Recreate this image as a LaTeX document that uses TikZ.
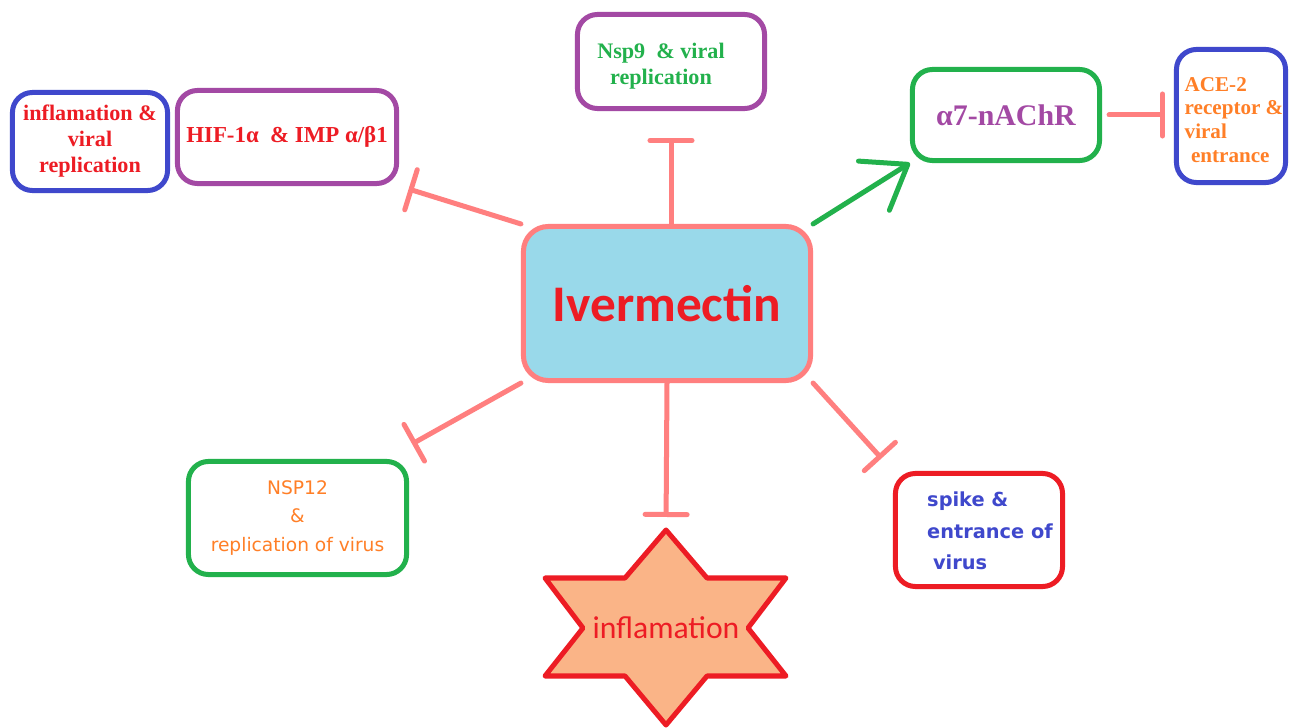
\documentclass[tikz,border=0pt]{standalone}
\usepackage{fontspec}
\setmainfont{Liberation Serif}
\newfontfamily\calibri{Carlito}
\newfontfamily\tahoma{DejaVu Sans}
\usetikzlibrary{arrows.meta,calc}
\definecolor{myred}{HTML}{ED1C24}
\definecolor{myblue}{HTML}{3F48CC}
\definecolor{mypurple}{HTML}{A349A4}
\definecolor{mygreen}{HTML}{22B14C}
\definecolor{myorange}{HTML}{FF7F27}
\definecolor{pinkline}{HTML}{FF7F7F}
\definecolor{ivmblue}{HTML}{99D9EA}
\definecolor{peach}{HTML}{FAB487}
\pgfdeclarelayer{bg}
\pgfsetlayers{bg,main}
\tikzset{box/.style={draw,line width=0.05cm,rounded corners=0.2cm,align=center,inner sep=0pt},
         inhib/.style={draw=pinkline,line width=0.05cm,line cap=round,-{Bar[width=0.42cm,round]}},
         activ/.style={draw=mygreen,line width=0.05cm,line cap=round,-{Straight Barb[length=0.4cm,width=0.58cm,round]}}}

\begin{document}
\begin{tikzpicture}[x=0.01cm,y=-0.01cm]
            % Ivermectin
            \node[box,draw=pinkline,fill=ivmblue,rounded corners=0.25cm,minimum width=2.87cm,minimum height=1.54cm,
                  text=myred,font=\calibri\bfseries\fontsize{14.6}{16}\selectfont] (ivm) at (667,303.5) {Ivermectin};

            % upper row
            \node[box,draw=myblue,text=myred,minimum width=1.55cm,minimum height=0.98cm,
                  font=\bfseries\fontsize{6.3}{7.4}\selectfont] (infl) at (90,141.5) {inflamation \&\\viral\\replication};
            \node[box,draw=mypurple,text=myred,minimum width=2.19cm,minimum height=0.93cm,
                  font=\bfseries\fontsize{6.5}{7.5}\selectfont] (hif) at (287,137) {HIF-1α~~\& IMP α/β1};
            \node[box,draw=mypurple,minimum width=1.87cm,minimum height=0.94cm] (nsp9) at (671,61.5) {};
            \node[text=mygreen,align=center,inner sep=0pt,
                  font=\bfseries\fontsize{6.3}{7.4}\selectfont] (nsp9txt) at (661,66) {Nsp9~~\& viral\\replication};
            \node[box,draw=mygreen,text=mypurple,minimum width=1.87cm,minimum height=0.91cm,
                  font=\bfseries\fontsize{8.5}{10}\selectfont] (a7) at (1006,115) {α7-nAChR};
            \node[box,draw=myblue,minimum width=1.09cm,minimum height=1.33cm] (ace) at (1231,116) {};
            \node[text=myorange,align=left,inner sep=0pt,
                  font=\bfseries\fontsize{6}{6.8}\selectfont] (acetxt) at (1234,120) {ACE-2\\receptor \&\\viral\\\hspace*{0.3em}entrance};

            % lower row
            \node[box,draw=mygreen,text=myorange,minimum width=2.18cm,minimum height=1.13cm,
                  font=\tahoma\fontsize{5.3}{8.1}\selectfont] (nsp12) at (297.5,518) {NSP12\\\&\\replication of virus};
            \node[box,draw=myred,minimum width=1.67cm,minimum height=1.13cm] (spike) at (979,530) {};
            \node[text=myblue,align=left,inner sep=0pt,
                  font=\tahoma\bfseries\fontsize{5.5}{9}\selectfont] (spiketxt) at (990,531) {spike \&\\entrance of\\\hspace*{0.3em}virus};

            % star
            \draw[draw=myred,fill=peach,line width=0.05cm,line join=round]
                (666,530) coordinate (startop) -- (707,578) -- (786,578) -- (748,628) -- (786,676) -- (707,676)
                -- (666,725) -- (625,676) -- (545,676) -- (583,628) -- (545,578) -- (625,578) -- cycle;
            \node[text=myred,font=\calibri\fontsize{9}{10}\selectfont] (inflam) at (666,628) {inflamation};

            \begin{pgfonlayer}{bg}
                \fill[white] (0,0) rectangle (1290,727);
                \draw[inhib,shorten >=0.1cm] (ivm.north west) -- (hif.south east);
                \draw[inhib,shorten >=0.27cm] (nsp9.south |- ivm.north) -- (nsp9.south);
                \draw[activ] (ivm.north east) -- (a7.south west);
                \draw[inhib,shorten <=0.07cm,shorten >=0.09cm] (a7.east) -- (a7.east -| ace.west);
                \draw[inhib] (ivm.south west) -- ($(nsp12.north east)+(3,-15)$);
                \draw[inhib,shorten >=0.13cm] (ivm.south) -- (startop);
                \draw[inhib,shorten >=0.17cm] (ivm.south east) -- (spike.north west);
            \end{pgfonlayer}
            \useasboundingbox (0,0) rectangle (1290,727);
\end{tikzpicture}
\end{document}
